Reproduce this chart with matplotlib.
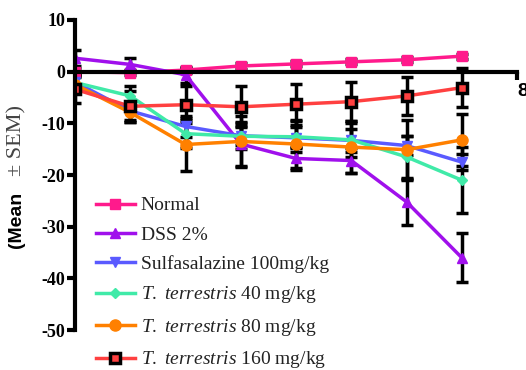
import numpy as np
import matplotlib
matplotlib.use("Agg")
from matplotlib import pyplot as plt

plt.rcParams['mathtext.fontset'] = 'custom'
plt.rcParams['mathtext.rm'] = 'Liberation Serif'
plt.rcParams['mathtext.it'] = 'Liberation Serif:italic'

days = [0, 1, 2, 3, 4, 5, 6, 7]

normal = [0.0, -0.2, 0.3, 1.1, 1.5, 1.9, 2.3, 3.0]
normal_err = [0.5, 0.5, 0.5, 0.5, 0.5, 0.5, 0.5, 0.5]

dss = [2.6, 1.4, -0.6, -14.0, -16.8, -17.2, -25.2, -36.0]
dss_err = [1.6, 1.2, 1.5, 4.2, 2.3, 2.5, 4.4, 4.7]

sulfa = [-2.0, -7.6, -10.6, -12.4, -12.8, -13.3, -14.3, -17.5]
sulfa_err = [1.5, 1.8, 2.0, 1.8, 2.0, 2.2, 1.8, 1.5]

tt40 = [-2.1, -4.7, -12.0, -12.5, -12.6, -13.2, -16.5, -21.0]
tt40_err = [1.5, 2.0, 2.7, 2.5, 3.0, 3.3, 4.0, 6.4]

tt80 = [-2.5, -7.9, -14.1, -13.5, -14.0, -14.6, -15.1, -13.2]
tt80_err = [1.5, 1.8, 5.2, 5.0, 4.6, 5.0, 5.8, 5.0]

tt160 = [-3.4, -6.7, -6.4, -6.8, -6.3, -5.8, -4.7, -3.1]
tt160_err = [2.6, 3.0, 3.6, 4.0, 4.0, 3.8, 3.6, 3.8]

series = [
    ("Normal", normal, normal_err, "#ff1a8c", "s", "#ff1a8c", 7),
    ("DSS 2%", dss, dss_err, "#a010ec", "^", "#a010ec", 7),
    ("Sulfasalazine 100mg/kg", sulfa, sulfa_err, "#5a5aff", "v", "#5a5aff", 7),
    (r"$\it{T.\ terrestris}$ 40 mg/kg", tt40, tt40_err, "#40eaa8", "D", "#40eaa8", 5.5),
    (r"$\it{T.\ terrestris}$ 80 mg/kg", tt80, tt80_err, "#ff8000", "o", "#ff8000", 8),
    (r"$\it{T.\ terrestris}$ 160 mg/kg", tt160, tt160_err, "#ff4040", "s", "black", 7.5),
]

fig = plt.figure(figsize=(5.26, 3.70), dpi=100)
ax = fig.add_axes([0.1426, 0.108, 0.983 - 0.1426, 0.946 - 0.108])

for label, y, err, color, marker, edge, ms in series:
    ax.errorbar(days, y, yerr=err, fmt='none', ecolor='black', elinewidth=2.5,
                capsize=4.5, capthick=2.5, zorder=2)
for label, y, err, color, marker, edge, ms in series:
    mew = 2.5 if edge == "black" else 1
    ax.plot(days, y, color=color, lw=2.5, marker=marker, markersize=ms,
            markerfacecolor=color, markeredgecolor=edge, markeredgewidth=mew,
            label=label, zorder=3)

ax.set_xlim(0, 8)
ax.set_ylim(-50, 10)
ax.spines['top'].set_visible(False)
ax.spines['right'].set_visible(False)
ax.spines['left'].set_linewidth(3)
ax.spines['bottom'].set_linewidth(3)
ax.spines['bottom'].set_position(('data', 0))
ax.spines['left'].set_zorder(4)
ax.spines['bottom'].set_zorder(4)

ax.set_yticks([10, 0, -10, -20, -30, -40, -50])
ax.set_yticklabels(["10", "0", "-10", "-20", "-30", "-40", "-50"],
                   fontfamily='Liberation Serif', fontweight='bold', fontsize=13)
ax.tick_params(axis='y', direction='out', length=6, width=3, pad=1)
ax.set_xticks([8])
ax.set_xticklabels(["8"], fontfamily='Liberation Sans', fontweight='bold', fontsize=14)
ax.tick_params(axis='x', direction='out', length=6, width=3, pad=2)
for t in ax.get_xticklabels():
    t.set_horizontalalignment('left')

leg = ax.legend(loc='lower left', bbox_to_anchor=(0.03, -0.155), frameon=False,
                prop={'family': 'Liberation Serif', 'size': 14},
                handlelength=2.0, handletextpad=0.3, labelspacing=0.59,
                borderaxespad=0)
for t in leg.get_texts():
    t.set_color('#222222')

fig.text(17 / 526, 1 - 220 / 370, "(Mean", rotation=90, ha='center', va='center',
         fontfamily='Liberation Sans', fontweight='bold', fontsize=14)
fig.text(17 / 526, 1 - 141 / 370, "\u00b1 SEM)", rotation=90, ha='center', va='center',
         fontfamily='Liberation Serif', fontsize=16, color='#444444')

fig.savefig("out.png", dpi=100)
